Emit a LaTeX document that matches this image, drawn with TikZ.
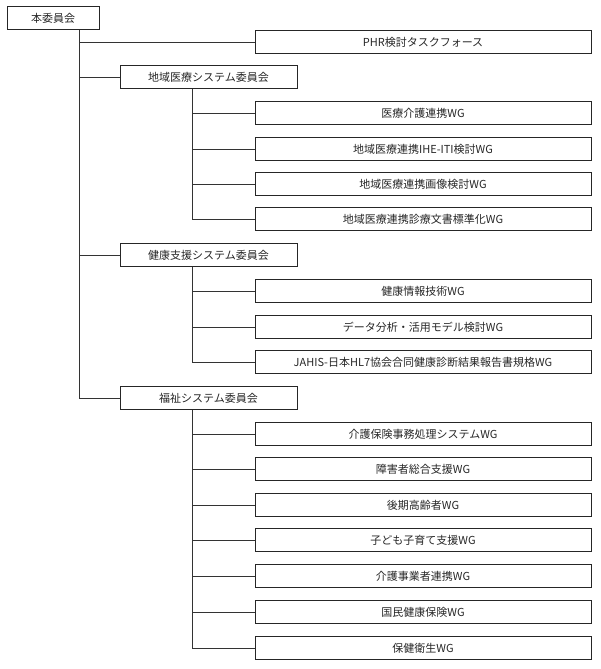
\documentclass[tikz,border=0pt]{standalone}
\usepackage{fontspec}
\setmainfont{Noto Sans CJK JP}
\begin{document}
\begin{tikzpicture}[x=1pt,y=-1pt,
  bx/.style={draw=black!85,line width=0.9pt,minimum height=23pt,inner sep=0pt,font=\fontsize{11}{13}\selectfont,text=black!85},
  wgbox/.style={bx,minimum width=336pt},
  cmte/.style={bx,minimum width=177pt},
  ln/.style={draw=black!80,line width=0.9pt}]
\useasboundingbox (0,0) rectangle (600,669);
\node[bx,minimum width=92pt] (root) at (53,18) {本委員会};
\node[wgbox] (phr) at (423,42) {PHR検討タスクフォース};
\node[cmte] (c1) at (208.5,77) {地域医療システム委員会};
\node[wgbox] (a1) at (423,113) {医療介護連携WG};
\node[wgbox] (a2) at (423,149) {地域医療連携IHE-ITI検討WG};
\node[wgbox] (a3) at (423,184) {地域医療連携画像検討WG};
\node[wgbox] (a4) at (423,219) {地域医療連携診療文書標準化WG};
\node[cmte] (c2) at (208.5,255) {健康支援システム委員会};
\node[wgbox] (b1) at (423,291) {健康情報技術WG};
\node[wgbox] (b2) at (423,327) {データ分析・活用モデル検討WG};
\node[wgbox] (b3) at (423,362) {JAHIS-日本HL7協会合同健康診断結果報告書規格WG};
\node[cmte] (c3) at (208.5,398) {福祉システム委員会};
\node[wgbox] (d1) at (423,434) {介護保険事務処理システムWG};
\node[wgbox] (d2) at (423,469) {障害者総合支援WG};
\node[wgbox] (d3) at (423,505) {後期高齢者WG};
\node[wgbox] (d4) at (423,540) {子ども子育て支援WG};
\node[wgbox] (d5) at (423,576) {介護事業者連携WG};
\node[wgbox] (d6) at (423,612) {国民健康保険WG};
\node[wgbox] (d7) at (423,648) {保健衛生WG};
\coordinate (rt) at (79,30);
\draw[ln] (rt) -- (rt |- c3.west) -- (c3.west);
\foreach \n in {phr,c1,c2} \draw[ln] (rt |- \n.west) -- (\n.west);
\foreach \c/\last/\list in {c1/a4/{a1,a2,a3}, c2/b3/{b1,b2}, c3/d7/{d1,d2,d3,d4,d5,d6}}{
  \coordinate (t) at ([xshift=-16.5pt]\c.south);
  \draw[ln] (t) -- (t |- \last.west) -- (\last.west);
  \foreach \n in \list \draw[ln] (t |- \n.west) -- (\n.west);
}
\end{tikzpicture}
\end{document}
